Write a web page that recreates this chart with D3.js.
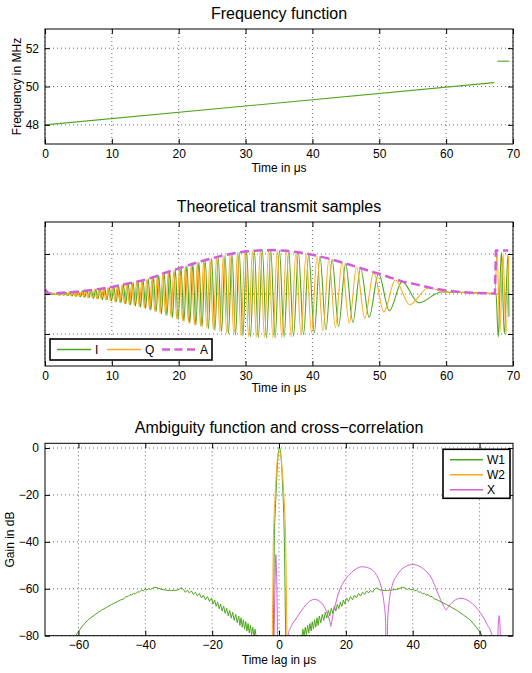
<!DOCTYPE html>
<html>
<head>
<meta charset="utf-8">
<title>Chirp transmit</title>
<script src="https://d3js.org/d3.v7.min.js"></script>
<style>
body { margin: 0; background: #fff; }
svg text { font-family: "Liberation Sans", Arial, sans-serif; fill: #000; }
.grid line { stroke: #444; stroke-dasharray: 1,3; stroke-width: 0.8; }
.tick line { stroke: #000; }
</style>
</head>
<body>
<svg id="chart" width="532" height="673"></svg>
<script>
// ---- frequency function (MHz over µs)
var freqTime1 = [0, 67.2];
var freqVal1 = [48.0, 50.2];
var freqTime2 = [67.65, 69.45];
var freqVal2 = [51.32, 51.32];

// ---- transmit samples: envelope A
var envTime = [0,0.5,2,4.2,6.4,8.4,10.2,12.1,14.4,16.4,17.8,20,22,24,26.3,28.3,29.9,32,34,36.1,38.4,40.3,42.3,44.6,46.6,48.6,50.3,51.5,53.5,55.5,57.8,60,62.2,64.5,67.3,67.45,69.3];
var envVal = [0.12,0.01,0.025,0.05,0.09,0.13,0.18,0.25,0.33,0.43,0.52,0.64,0.75,0.85,0.95,1.02,1.06,1.09,1.10,1.08,1.03,0.97,0.89,0.78,0.68,0.57,0.49,0.42,0.31,0.24,0.15,0.09,0.05,0.025,0.01,1.09,1.09];

// I samples (peaks/troughs)
var iTime = [0,0.15,0.44,0.73,1.03,1.32,1.62,1.91,2.21,2.52,
  2.82,3.13,3.43,3.74,4.05,4.36,4.68,5.00,5.32,5.64,
  5.96,6.28,6.59,6.92,7.25,7.58,7.92,8.25,8.59,8.93,
  9.26,9.61,9.95,10.30,10.65,10.99,11.35,11.72,12.08,12.44,
  12.80,13.17,13.54,13.92,14.29,14.67,15.05,15.43,15.83,16.22,
  16.61,17.01,17.42,17.82,18.24,18.65,19.07,19.49,19.91,20.35,
  20.78,21.22,21.66,22.12,22.57,23.02,23.49,23.96,24.44,24.92,
  25.41,25.91,26.41,26.92,27.43,27.97,28.50,29.05,29.60,30.16,
  30.73,31.32,31.91,32.51,33.13,33.77,34.42,35.07,35.76,36.46,
  37.17,37.91,38.67,39.45,40.28,41.13,42.02,42.94,43.92,44.96,
  46.05,47.20,48.48,49.89,51.50,53.41,55.89,59.3,62,67.3,
  67.45,67.8,68.25,68.7,69.25,69.4];
var iVal = [0,0.02,-0.02,0.02,-0.02,0.02,-0.02,0.02,-0.03,0.03,
  -0.03,0.04,-0.04,0.04,-0.05,0.05,-0.06,0.06,-0.07,0.08,
  -0.08,0.09,-0.09,0.10,-0.11,0.11,-0.12,0.13,-0.14,0.15,
  -0.15,0.16,-0.17,0.18,-0.20,0.21,-0.22,0.24,-0.25,0.26,
  -0.27,0.29,-0.30,0.31,-0.33,0.34,-0.36,0.38,-0.40,0.42,
  -0.44,0.47,-0.50,0.52,-0.54,0.56,-0.59,0.61,-0.64,0.66,
  -0.68,0.71,-0.73,0.76,-0.78,0.80,-0.82,0.85,-0.87,0.89,
  -0.91,0.93,-0.95,0.97,-0.99,1.01,-1.03,1.04,-1.05,1.06,
  -1.07,1.08,-1.09,1.09,-1.10,1.10,-1.10,1.09,-1.08,1.07,
  -1.06,1.04,-1.02,1.00,-0.97,0.94,-0.90,0.86,-0.81,0.76,
  -0.71,0.65,-0.58,0.51,-0.42,0.31,-0.22,0.05,0.04,0.01,
  0.0,-1.08,1.05,-1.0,0.98,-0.57];

// Q samples
var qTime = [0,0.29,0.58,0.88,1.17,1.47,1.77,2.07,2.37,2.67,
  2.98,3.28,3.59,3.90,4.21,4.53,4.84,5.15,5.47,5.79,
  6.11,6.44,6.76,7.09,7.42,7.76,8.08,8.42,8.75,9.10,
  9.44,9.79,10.12,10.47,10.82,11.18,11.54,11.89,12.25,12.62,
  12.99,13.35,13.72,14.10,14.48,14.86,15.24,15.63,16.02,16.42,
  16.81,17.21,17.62,18.03,18.44,18.86,19.27,19.70,20.12,20.56,
  20.99,21.44,21.88,22.34,22.79,23.26,23.72,24.20,24.68,25.17,
  25.65,26.16,26.66,27.18,27.69,28.24,28.77,29.32,29.87,30.45,
  31.02,31.61,32.20,32.82,33.44,34.09,34.73,35.42,36.10,36.81,
  37.53,38.29,39.05,39.87,40.68,41.57,42.46,43.44,44.40,45.51,
  46.60,47.83,49.16,50.67,52.40,54.54,57.3,60,62.5,67.3,
  67.6,68.05,68.5,68.95,69.35];
var qVal = [0.02,-0.02,0.02,-0.02,0.02,-0.02,0.02,-0.03,0.03,-0.03,
  0.03,-0.04,0.04,-0.05,0.05,-0.06,0.06,-0.07,0.07,-0.08,
  0.08,-0.09,0.10,-0.10,0.11,-0.12,0.12,-0.13,0.14,-0.15,
  0.16,-0.17,0.18,-0.19,0.20,-0.21,0.23,-0.24,0.26,-0.27,
  0.28,-0.29,0.31,-0.32,0.33,-0.35,0.37,-0.39,0.41,-0.43,
  0.46,-0.48,0.51,-0.53,0.55,-0.58,0.60,-0.62,0.65,-0.67,
  0.69,-0.72,0.74,-0.77,0.79,-0.81,0.84,-0.86,0.88,-0.90,
  0.92,-0.94,0.96,-0.98,1.00,-1.02,1.03,-1.05,1.06,-1.07,
  1.08,-1.08,1.09,-1.09,1.10,-1.10,1.09,-1.09,1.08,-1.07,
  1.05,-1.03,1.01,-0.98,0.95,-0.92,0.88,-0.84,0.79,-0.73,
  0.68,-0.61,0.54,-0.45,0.35,-0.27,0.15,0.05,0.04,0.01,
  1.07,-0.95,1.02,-1.0,0.95];

// ---- ambiguity function (dB over lag in µs)
// W1 sidelobes, one side (the function is symmetric in lag)
var w1SideLag = [6.8,7.15,7.5,7.85,8.2,8.55,8.9,9.25,9.6,9.95,10.3,10.65,11.0,11.35,11.7,12.05,
  12.5,12.95,13.4,13.85,14.3,14.75,15.2,15.65,16.1,16.55,17.0,17.45,17.9,18.35,18.8,19.25,19.7,
  20.2,20.8,21.4,22.0,22.6,23.2,23.8,24.4,25.0,25.6,26.2,26.8,27.4,28.0,
  28.6,29.3,29.9,30.5,31.5,32.5,33.5,34.5,35.6,36.4,37.1,37.8,
  38.4,39.0,39.5,40.1,40.6,41.2,41.8,42.3,42.9,43.5,44.0,44.6,45.2,45.8,46.4,
  47.3,48.5,50.2,51.7,53.2,55.1,57.1,58.0,59.0,60.0,60.8];
var w1SideGain = [-81.0,-77.2,-80.4,-76.4,-79.6,-75.6,-78.8,-74.8,-78.0,-74.0,-77.2,-73.2,-76.4,-72.4,-75.6,-71.6,
  -74.5,-70.9,-73.5,-70.0,-72.5,-69.2,-71.5,-68.3,-70.5,-67.4,-69.5,-66.6,-68.5,-65.7,-67.5,-64.8,-66.5,
  -64.0,-65.4,-63.3,-64.7,-62.7,-63.9,-62.0,-63.1,-61.5,-62.4,-60.9,-61.8,-60.6,-61.5,
  -60.2,-59.6,-60.2,-60.6,-60.7,-60.7,-60.6,-60.4,-60.1,-59.6,-59.3,-59.8,
  -60.3,-59.9,-60.5,-60.2,-60.9,-60.6,-61.5,-61.3,-62.1,-61.9,-62.7,-62.5,-63.4,-63.3,-64.3,
  -64.7,-65.6,-66.8,-68.0,-69.2,-71.1,-73.2,-74.6,-76.3,-78.2,-80.0];
var w1MainLag = [-2.0,-1.7,-1.55,-1.4,-1.15,-0.9,-0.5,-0.2,0.15,0.5,0.8,1.2,1.45,1.6,1.8,2.0,2.3];
var w1MainGain = [-100,-80,-60,-40,-28,-20,-8,-2,0,-2,-8,-20,-30,-40,-60,-80,-100];
var w2Lag = [-2.3,-2.0,-1.85,-1.7,-1.45,-1.15,-0.7,-0.3,0,0.4,0.9,1.45,1.8,2.0,2.2,2.35,2.6];
var w2Gain = [-100,-80,-60,-40,-28,-20,-8,-2.5,-1.4,-2.5,-8,-20,-30,-40,-60,-80,-100];
var xLag = [-1.7,-1.3,-1.1,-0.95,-0.8,-0.6,-0.3,2.0,2.7,3.5,5.2,6.7,8.1,9.5,10.7,12.0,13.0,14.0,14.8,15.2,
  15.5,15.8,16.3,17.0,17.9,19.3,20.8,22.6,24.7,26.5,28.6,29.8,30.7,31.4,31.9,32.2,32.5,33.0,34.0,35.2,
  36.4,38.2,40.0,42.2,44.2,45.8,47.1,48.3,49.3,50.0,50.7,51.5,52.9,54.4,56.0,57.9,59.5,60.8,62.3,63.7,
  64.3,65.3,65.55,65.85,66.15,66.45,70];
var xGain = [-100,-66,-52,-45.4,-50,-62,-100,-100,-80,-76.5,-72.5,-69.3,-66.8,-65.0,-64.5,-65.2,-66.5,-69.0,-72.0,-74.0,
  -76.0,-73.8,-70.0,-66.0,-61.4,-57.2,-54.3,-52.0,-50.6,-51.0,-53.0,-56.0,-60.0,-66.0,-74.0,-100,-74.0,-65.0,-58.0,-54.5,
  -52.1,-50.3,-49.6,-50.6,-52.8,-56.0,-60.5,-64.5,-67.5,-69.0,-67.6,-66.3,-64.6,-64.0,-64.6,-66.4,-68.8,-71.4,-75.3,-80,
  -100,-100,-77,-71.4,-77,-100,-100];

// ---- ticks
var timeTicks = [0,10,20,30,40,50,60,70];
var freqTicks = [48,50,52];
var sampleTicks = [-1,0,1];
var lagTicks = [-60,-40,-20,0,20,40,60];
var gainTicks = [-80,-60,-40,-20,0];

var green = "#4ea61d", orange = "#ffab19", pink = "#d35ed6";
var svg = d3.select("#chart");
var clipCount = 0;

function panel(opt) {
  var g = svg.append("g").attr("transform", "translate(" + opt.left + "," + opt.top + ")");
  var w = opt.width, h = opt.height;
  var x = d3.scaleLinear().domain(opt.xDomain).range([0, w]);
  var y = d3.scaleLinear().domain(opt.yDomain).range([h, 0]);

  var grid = g.append("g").attr("class", "grid");
  grid.selectAll(".gx").data(opt.xTicks).enter().append("line")
    .attr("x1", function(d) { return x(d); }).attr("x2", function(d) { return x(d); })
    .attr("y1", 0).attr("y2", h);
  grid.selectAll(".gy").data(opt.yTicks).enter().append("line")
    .attr("x1", 0).attr("x2", w)
    .attr("y1", function(d) { return y(d); }).attr("y2", function(d) { return y(d); });

  clipCount++;
  var id = "clip" + clipCount;
  g.append("clipPath").attr("id", id).append("rect").attr("width", w).attr("height", h);
  var plot = g.append("g").attr("clip-path", "url(#" + id + ")");

  var fmt = d3.format("d");
  var ax = [
    g.append("g").attr("transform", "translate(0," + h + ")")
      .call(d3.axisBottom(x).tickValues(opt.xTicks).tickSize(-5).tickSizeOuter(0).tickPadding(5).tickFormat(fmt)),
    g.append("g")
      .call(d3.axisLeft(y).tickValues(opt.yTicks).tickSize(-5).tickSizeOuter(0).tickPadding(6)
        .tickFormat(opt.yLabels ? fmt : "")),
    g.append("g")
      .call(d3.axisTop(x).tickValues(opt.xTicks).tickSize(-5).tickSizeOuter(0).tickFormat("")),
    g.append("g").attr("transform", "translate(" + w + ",0)")
      .call(d3.axisRight(y).tickValues(opt.yTicks).tickSize(-5).tickSizeOuter(0).tickFormat(""))
  ];
  ax.forEach(function(a) {
    a.select(".domain").remove();
    a.selectAll("text").style("font-size", "12px").style("font-family", "Liberation Sans, Arial, sans-serif");
  });

  svg.append("text").attr("x", opt.left + w / 2).attr("y", opt.top - 10)
    .attr("text-anchor", "middle").style("font-size", "16px").text(opt.title);
  svg.append("text").attr("x", opt.left + w / 2).attr("y", opt.top + h + opt.xLabelGap)
    .attr("text-anchor", "middle").style("font-size", "12px").text(opt.xLabel);
  if (opt.yLabel) {
    svg.append("text")
      .attr("transform", "translate(" + opt.yLabelX + "," + (opt.top + h / 2) + ") rotate(-90)")
      .attr("text-anchor", "middle").style("font-size", "12px").text(opt.yLabel);
  }
  return { g: g, plot: plot, x: x, y: y, w: w, h: h };
}

function drawLine(p, xs, ys, color, width, curve, dash) {
  var pts = d3.zip(xs, ys);
  var line = d3.line().x(function(d) { return p.x(d[0]); }).y(function(d) { return p.y(d[1]); })
    .curve(curve || d3.curveLinear);
  var path = p.plot.append("path").datum(pts).attr("d", line)
    .attr("fill", "none").attr("stroke", color).attr("stroke-width", width)
    .attr("stroke-linejoin", "round");
  if (dash) path.attr("stroke-dasharray", dash);
}

function box(p) {
  p.g.append("rect").attr("width", p.w).attr("height", p.h)
    .attr("fill", "none").attr("stroke", "#000").attr("stroke-width", 1);
}

// ---------- panel 1: frequency function
var p1 = panel({ left: 45, top: 29, width: 468, height: 115,
  xDomain: [0, 70], yDomain: [47, 53], xTicks: timeTicks, yTicks: freqTicks, yLabels: true,
  title: "Frequency function", xLabel: "Time in \u03bcs", xLabelGap: 28,
  yLabel: "Frequency in MHz", yLabelX: 21 });
drawLine(p1, freqTime1, freqVal1, green, 1.1);
drawLine(p1, freqTime2, freqVal2, green, 1.1);
box(p1);

// ---------- panel 2: transmit samples
var p2 = panel({ left: 45, top: 222, width: 468, height: 144,
  xDomain: [0, 70], yDomain: [-1.8, 1.8], xTicks: timeTicks, yTicks: sampleTicks, yLabels: false,
  title: "Theoretical transmit samples", xLabel: "Time in \u03bcs", xLabelGap: 26 });
drawLine(p2, iTime, iVal, green, 1.1, d3.curveMonotoneX);
drawLine(p2, qTime, qVal, orange, 1.1, d3.curveMonotoneX);
drawLine(p2, envTime, envVal, pink, 2.5, d3.curveLinear, "9,4.5");
box(p2);

var lg2 = p2.g.append("g").attr("transform", "translate(5,117)");
lg2.append("rect").attr("width", 162).attr("height", 21).attr("fill", "#fff")
  .attr("stroke", "#000").attr("stroke-width", 1.6);
var leg2 = [
  { label: "I", color: green, x: 7, w: 1.5 },
  { label: "Q", color: orange, x: 57, w: 1.5 },
  { label: "A", color: pink, x: 112, w: 2.5, dash: "8,4.5" }
];
leg2.forEach(function(d) {
  var l = lg2.append("line").attr("x1", d.x).attr("x2", d.x + 34).attr("y1", 10.5).attr("y2", 10.5)
    .style("stroke", d.color).style("stroke-width", d.w);
  if (d.dash) l.style("stroke-dasharray", d.dash);
  lg2.append("text").attr("x", d.x + 38).attr("y", 15).style("font-size", "12px").text(d.label);
});

// ---------- panel 3: ambiguity function
var p3 = panel({ left: 45, top: 443.3, width: 468, height: 192.4,
  xDomain: [-70, 70], yDomain: [-80, 2], xTicks: lagTicks, yTicks: gainTicks, yLabels: true,
  title: "Ambiguity function and cross\u2212correlation", xLabel: "Time lag in \u03bcs", xLabelGap: 28,
  yLabel: "Gain in dB", yLabelX: 14 });
drawLine(p3, w1SideLag.map(function(v) { return -v; }), w1SideGain, green, 1);
drawLine(p3, w1SideLag, w1SideGain, green, 1);
drawLine(p3, w1MainLag, w1MainGain, green, 1, d3.curveMonotoneX);
drawLine(p3, w2Lag, w2Gain, orange, 1, d3.curveMonotoneX);
drawLine(p3, xLag, xGain, pink, 1, d3.curveMonotoneX);
box(p3);

var lg3 = p3.g.append("g").attr("transform", "translate(398,6)");
lg3.append("rect").attr("width", 67).attr("height", 49).attr("fill", "#fff")
  .attr("stroke", "#000").attr("stroke-width", 1.6);
[["W1", green], ["W2", orange], ["X", pink]].forEach(function(d, i) {
  var yy = 10.5 + i * 15;
  lg3.append("line").attr("x1", 7).attr("x2", 40).attr("y1", yy).attr("y2", yy)
    .style("stroke", d[1]).style("stroke-width", 1.5);
  lg3.append("text").attr("x", 44).attr("y", yy + 4.5).style("font-size", "12px").text(d[0]);
});
</script>
</body>
</html>
